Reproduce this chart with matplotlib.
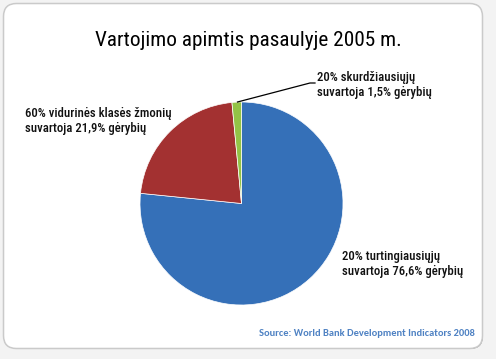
import matplotlib.pyplot as plt
from matplotlib.patches import FancyBboxPatch

# Chart data
shares = [76.6, 21.9, 1.5]
slice_colours = ['#3570b8', '#a33131', '#93c346']
labels = ['20% turtingiausiųjų\nsuvartoja 76,6% gėrybių',
          '60% vidurinės klasės žmonių\nsuvartoja 21,9% gėrybių',
          '20% skurdžiausiųjų\nsuvartoja 1,5% gėrybių']
title = 'Vartojimo apimtis pasaulyje 2005 m.'
source = 'Source: World Bank Development Indicators 2008'

plt.rcParams['font.family'] = ['Roboto Condensed', 'DejaVu Sans']

W, H = 496, 359
fig = plt.figure(figsize=(W / 100, H / 100), dpi=100)
fig.patch.set_facecolor('#f3f3f3')
ax = fig.add_axes([0, 0, 1, 1])

# Soft shadow behind the card
for i, a in enumerate([0.08, 0.11, 0.14, 0.18, 0.24]):
    off = 7 - i
    ax.add_patch(FancyBboxPatch((4 + off, 4 + off), 479 - off, 345 - off,
                                boxstyle='round,pad=0,rounding_size=13',
                                fc='#4a4a4a', ec='none', alpha=a, zorder=0))
ax.add_patch(FancyBboxPatch((3.5, 3.5), 479, 345,
                            boxstyle='round,pad=0,rounding_size=13',
                            fc='white', ec='#cacaca', lw=1.1, zorder=1))

# y axis is inverted (pixel coords), so start at -90 and go counterclockwise
# to get "from the top, clockwise" on screen
wedges, _ = ax.pie(shares, colors=slice_colours, startangle=-90, counterclock=True,
                   center=(241.5, 203.5), radius=101.5, frame=True,
                   wedgeprops=dict(linewidth=0.5, edgecolor='white'))
for w in wedges:
    w.set_zorder(2)
ax.set_xlim(0, W)
ax.set_ylim(H, 0)
ax.set_aspect('equal')
ax.axis('off')

ax.text(248, 40, title, fontsize=15.3, ha='center', va='center', color='black', zorder=3)

lab_kw = dict(fontsize=9.2, fontweight='medium', ha='left', va='center',
              linespacing=1.25, color='#111111', zorder=3)
ax.text(342, 264, labels[0], **lab_kw)
ax.text(25, 121, labels[1], **lab_kw)
ax.text(317, 85, labels[2], **lab_kw)
ax.plot([237.5, 310, 315], [102, 83, 83], color='black', lw=0.9, zorder=3)

ax.text(475, 334, source, fontsize=7.5, fontfamily=['Carlito', 'Lato'], fontweight='bold',
        color='#4f82c3', ha='right', va='center', zorder=3)

fig.savefig('out.png', dpi=100)
